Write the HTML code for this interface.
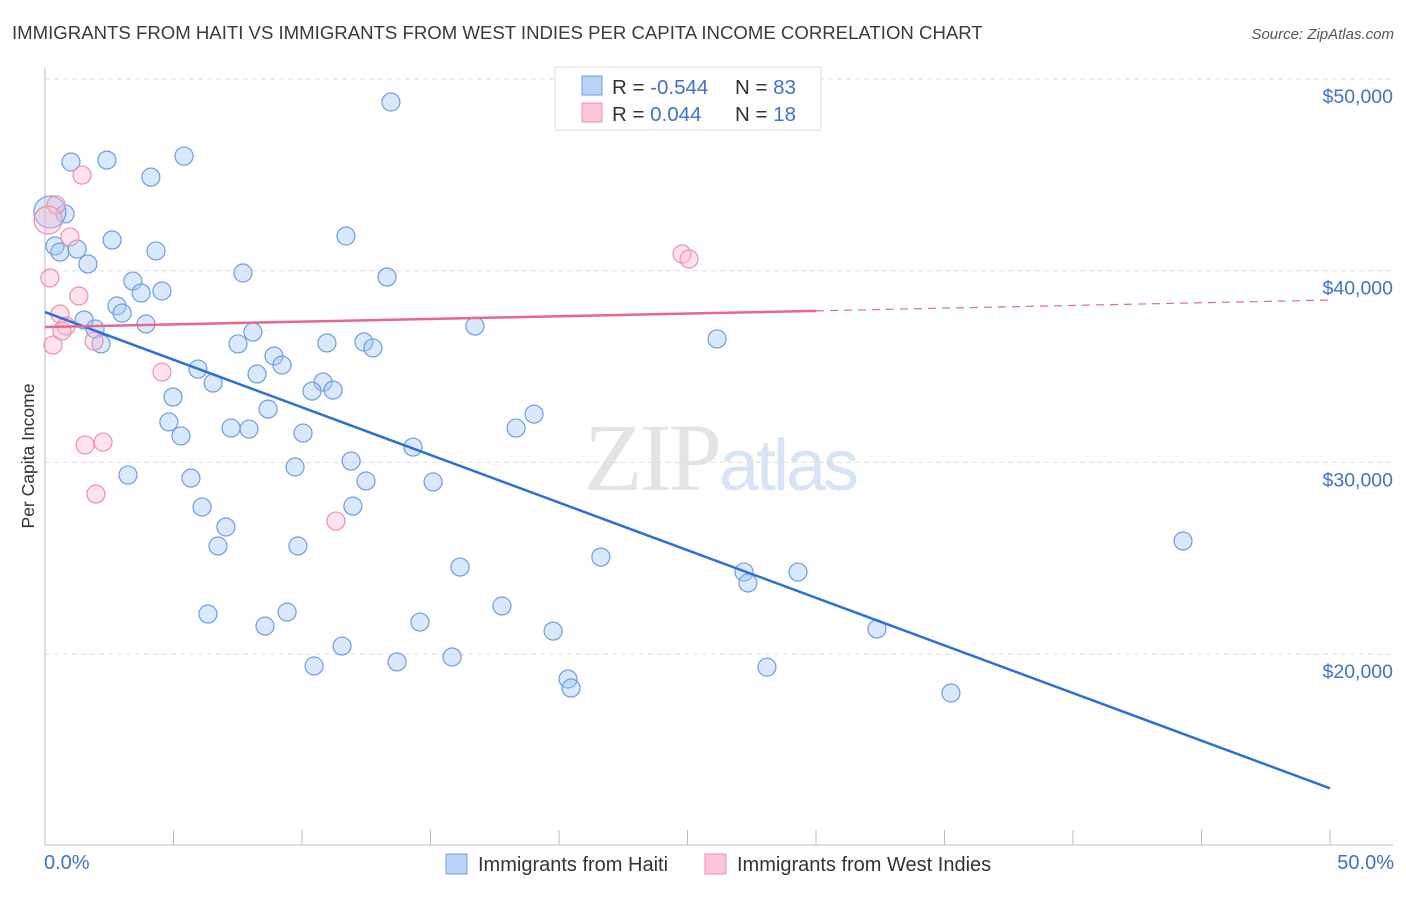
<!DOCTYPE html>
<html><head><meta charset="utf-8"><style>
body{margin:0;background:#fff;font-family:"Liberation Sans",sans-serif}
</style></head><body>
<svg width="1406" height="892" xmlns="http://www.w3.org/2000/svg" font-family="Liberation Sans, sans-serif">
<text x="12" y="39" font-size="18.6" fill="#3a3a3a">IMMIGRANTS FROM HAITI VS IMMIGRANTS FROM WEST INDIES PER CAPITA INCOME CORRELATION CHART</text>
<text x="1394" y="39" font-size="15" fill="#555" text-anchor="end" font-style="italic">Source: ZipAtlas.com</text>
<text x="720" y="490" font-size="96" text-anchor="middle" fill="#e4e4e4" font-family="Liberation Serif, serif" letter-spacing="-3">ZIP<tspan fill="#d6e4f5" font-family="Liberation Sans, sans-serif" font-size="72">atlas</tspan></text>
<g id="grid"></g>
<g id="axes"></g>
<g id="marks"></g>
<text transform="translate(34,456) rotate(-90)" font-size="17.5" fill="#333" text-anchor="middle">Per Capita Income</text>
<text x="44" y="869" font-size="20" fill="#3d73c9">0.0%</text>
<text x="1394" y="869" font-size="20" fill="#3d73c9" text-anchor="end">50.0%</text>
<g>
<rect x="555" y="67" width="266" height="63" fill="#fff" stroke="#ddd"/>
<rect x="582" y="76" width="20" height="19" fill="#b8d3f5" stroke="#6d9ee0"/>
<rect x="582" y="103" width="20" height="19" fill="#fcc6d6" stroke="#ec8fab"/>
<text x="612" y="94" font-size="20.5" fill="#333">R = <tspan fill="#3d73c9">-0.544</tspan><tspan x="735">N = </tspan><tspan fill="#3d73c9">83</tspan></text>
<text x="612" y="121" font-size="20.5" fill="#333">R = <tspan fill="#3d73c9">0.044</tspan><tspan x="735">N = </tspan><tspan fill="#3d73c9"> 18</tspan></text>
</g>
<g>
<rect x="446" y="854" width="21" height="20" fill="#b8d3f5" stroke="#6d9ee0"/>
<text x="478" y="871" font-size="20" fill="#333">Immigrants from Haiti</text>
<rect x="705" y="854" width="21" height="20" fill="#fcc6d6" stroke="#ec8fab"/>
<text x="737" y="871" font-size="20" fill="#333">Immigrants from West Indies</text>
</g>
</svg>
<script>
const yTicks=[20000,30000,40000,50000];
const yTickLabels=["$20,000","$30,000","$40,000","$50,000"];
const xTicks=[0,5,10,15,20,25,30,35,40,45,50];
const haitiX=[13.46,1.01,2.41,5.41,4.12,0.78,0.19,0.39,0.58,1.25,2.61,4.32,11.71,1.67,7.70,13.31,3.42,3.74,4.55,2.80,3.00,3.93,1.52,1.95,2.18,16.73,26.15,8.09,7.51,10.97,12.41,12.76,8.91,9.22,5.95,8.25,6.54,10.82,10.39,11.21,4.98,8.68,19.03,4.82,5.29,7.24,7.94,10.04,18.33,14.32,11.91,9.73,3.23,5.68,12.49,15.10,6.11,11.98,7.04,6.73,9.84,21.63,44.28,16.15,27.20,29.30,27.35,17.78,6.34,9.42,8.56,14.59,19.77,32.37,11.56,10.47,13.70,15.84,28.09,20.35,20.47,35.25];
const haitiY=[48800,45670,45770,45980,44880,42960,43060,41290,40970,41130,41600,41030,41810,40350,39880,39670,39460,38840,38940,38160,37790,37220,37430,36960,36180,37110,36440,36800,36180,36230,36280,35970,35550,35080,34870,34610,34140,34190,33720,33770,33410,32780,32520,32110,31380,31790,31740,31530,31790,30800,30070,29760,29340,29180,29030,28980,27670,27720,26630,25640,25640,25060,25900,24540,24280,24280,23710,22510,22090,22190,21460,21670,21200,21310,20420,19380,19590,19850,19320,18700,18230,17970];
const wiX=[1.44,0.43,0.12,0.97,0.19,1.32,0.58,0.82,0.66,1.91,0.31,4.55,1.56,2.26,1.98,11.32,24.79,25.06];
const wiY=[44990,43430,42640,41760,39620,38680,37740,37110,36850,36330,36120,34710,30910,31060,28350,26940,40870,40610];
const haitiTrend=[37840,13000];
const wiTrend=[37060,38470];
const X=v=>45+v*25.7;
const Y=v=>79+(50000-v)*0.01917;
const NS="http://www.w3.org/2000/svg";
function mk(t,a,p){const e=document.createElementNS(NS,t);for(const k in a)e.setAttribute(k,a[k]);p.appendChild(e);return e;}
const grid=document.getElementById('grid'),axes=document.getElementById('axes'),marks=document.getElementById('marks');
yTicks.forEach((v,i)=>{
 const l=mk('line',{x1:45,x2:1393,y1:Y(v),y2:Y(v),stroke:'#ddd','stroke-dasharray':'5,4'},grid);
 
 
 const t=mk('text',{x:1393,y:Y(v)+24,'font-size':19.5,fill:'#3d73c9','text-anchor':'end'},grid);
 t.textContent=yTickLabels[i];
 
 
});
const ax=mk('line',{x1:45,x2:45,y1:68,y2:845,stroke:'#bbb'},axes);


const bx=mk('line',{x1:45,x2:1393,y1:845,y2:845,stroke:'#bbb'},axes);


xTicks.forEach(v=>{
 const t=mk('line',{x1:X(v),x2:X(v),y1:830,y2:845,stroke:'#bbb'},axes);
 
 
});
haitiX.forEach((x,i)=>{
 const c=mk('circle',{cx:X(x),cy:Y(haitiY[i]),r:(i==6?16:9),fill:'rgba(160,198,242,0.4)',stroke:'#6d9ee0','stroke-width':1.2},marks);
 
 
});
wiX.forEach((x,i)=>{
 const c=mk('circle',{cx:X(x),cy:Y(wiY[i]),r:(i==2?14:9),fill:'rgba(250,185,205,0.4)',stroke:'#ec8fab','stroke-width':1.2},marks);
 
 
});
const hl=mk('line',{x1:X(0),y1:Y(haitiTrend[0]),x2:X(50),y2:Y(haitiTrend[1]),stroke:'#2f6fd6','stroke-width':2.5},marks);


const wy=x=>wiTrend[0]+(wiTrend[1]-wiTrend[0])*x/50;
const wl=mk('line',{x1:X(0),y1:Y(wy(0)),x2:X(30),y2:Y(wy(30)),stroke:'#e8678f','stroke-width':2.5},marks);


const wd=mk('line',{x1:X(30),y1:Y(wy(30)),x2:X(50),y2:Y(wy(50)),stroke:'#e8678f','stroke-width':1.2,'stroke-dasharray':'8,6'},marks);


</script>
</body></html>
